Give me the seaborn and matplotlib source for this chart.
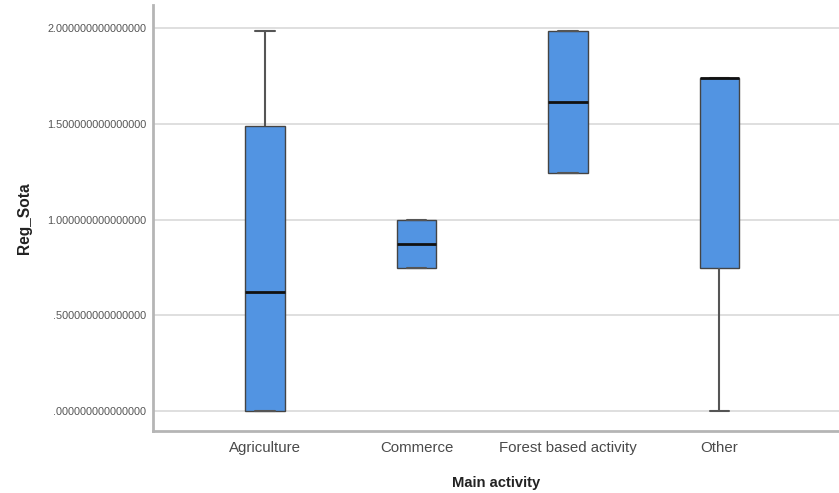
import matplotlib
matplotlib.use("Agg")
import matplotlib.pyplot as plt
import seaborn as sns
import pandas as pd

# Per-group observations (min, lower hinge, median, upper hinge, max)
categories = ["Agriculture", "Commerce", "Forest based activity", "Other"]
agriculture = [0.000, 0.000, 0.621, 1.488, 1.984]
commerce = [0.747, 0.747, 0.872, 0.997, 0.997]
forest_based = [1.243, 1.243, 1.614, 1.984, 1.984]
other = [0.000, 0.747, 1.739, 1.739, 1.739]

y_ticks = [0.0, 0.5, 1.0, 1.5, 2.0]
y_ticklabels = [".000000000000000", ".500000000000000", "1.000000000000000",
                "1.500000000000000", "2.000000000000000"]

groups = [agriculture, commerce, forest_based, other]
df = pd.DataFrame({
    "Main activity": [c for c, g in zip(categories, groups) for _ in g],
    "Reg_Sota": [v for g in groups for v in g],
})

sns.set_style("white")
plt.rcParams["font.family"] = ["Liberation Sans", "DejaVu Sans"]

fig = plt.figure(figsize=(8.39, 4.93), dpi=100)
ax = fig.add_axes([0.1824, 0.1258, 0.8176, 0.864])

for y in y_ticks:
    ax.axhline(y, color="#dcdcdc", lw=1.3, zorder=0)

sns.boxplot(
    data=df, x="Main activity", y="Reg_Sota", order=categories,
    color="#5294e2", saturation=1, width=0.26, whis=1.5,
    linecolor="#3a3a3a", linewidth=1.0, showfliers=False, ax=ax,
    medianprops=dict(color="#111111", linewidth=2.0),
    whiskerprops=dict(color="#555555", linewidth=1.5),
    capprops=dict(color="#555555", linewidth=1.5),
    boxprops=dict(edgecolor="#444444", linewidth=1.0),
    zorder=2,
)

ax.set_xlim(-0.74, 3.79)
ax.set_ylim(-0.104, 2.12)
ax.set_yticks(y_ticks)
ax.set_yticklabels(y_ticklabels, fontsize=7.8, color="#555555")
ax.tick_params(axis="x", labelsize=10.8, labelcolor="#4a4a4a", length=0, pad=7)
ax.tick_params(axis="y", length=0, pad=5)
ax.grid(False)

for side in ["top", "right"]:
    ax.spines[side].set_visible(False)
for side in ["left", "bottom"]:
    ax.spines[side].set_color("#b5b5b5")
    ax.spines[side].set_linewidth(2)

ax.set_xlabel("Main activity", fontsize=10.6, fontweight="bold", color="#222222", labelpad=15)
ax.set_ylabel("Reg_Sota", fontsize=11.2, fontweight="bold", color="#222222", labelpad=11)

fig.savefig("out.png", dpi=100)
